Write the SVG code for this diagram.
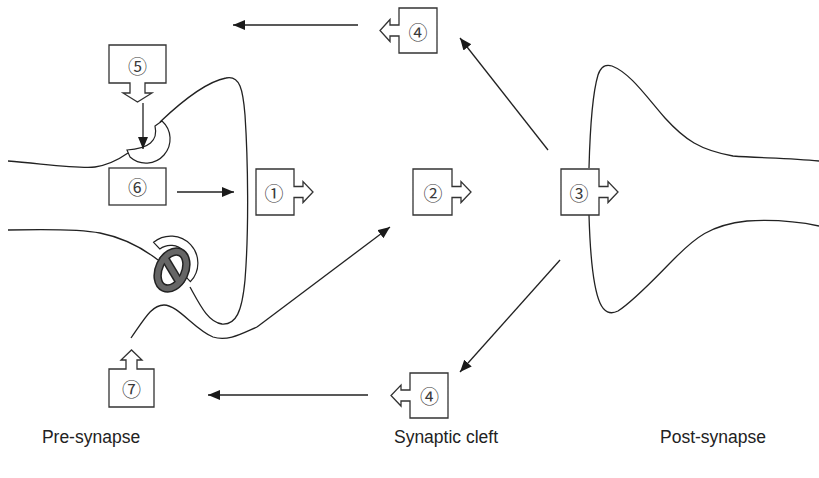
<svg xmlns="http://www.w3.org/2000/svg" width="819" height="478" viewBox="0 0 819 478">
  <defs>
    <marker id="head" markerUnits="userSpaceOnUse" markerWidth="13" markerHeight="11" refX="12" refY="5" orient="auto">
      <path d="M0,0 L12,5 L0,10 Z" fill="#1a1a1a"/>
    </marker>
    <style>
      .membrane { fill: none; stroke: #222; stroke-width: 1.3; }
      .box { fill: #fff; stroke: #333; stroke-width: 1.3; stroke-linejoin: miter; }
      .receptor { fill: #fff; stroke: #222; stroke-width: 1.2; }
      .num { font-family: "Noto Sans CJK JP", "DejaVu Sans", sans-serif; font-size: 19px; fill: #3a3a3a; text-anchor: middle; dominant-baseline: central; }
      .label { font-family: "Liberation Sans", Arial, sans-serif; font-size: 17.5px; fill: #222; text-anchor: middle; }
      .conn { fill: none; stroke: #222; stroke-width: 1.3; marker-end: url(#head); }
      .block-edge { fill: none; stroke: #222; stroke-width: 8.5; }
      .block-fill { fill: none; stroke: #666; stroke-width: 5.5; }
    </style>
  </defs>

  <!-- Post-synaptic terminal outline -->
  <g id="post-synapse">
    <path class="membrane" d="M589,168 C590,130 592,95 598,75 C601,66 606,64 612,66 C630,73 645,95 665,118 C685,140 700,150 733,156 C760,158 790,158 819,161"/>
    <path class="membrane" d="M589,215 C590,250 592,285 600,303 C604,312 610,315 618,311 C635,300 655,278 675,258 C695,238 710,225 747,221 C780,219 800,222 819,226"/>
  </g>

  <!-- Pre-synaptic terminal outline with its receptors -->
  <g id="pre-synapse">
    <path id="receptor-top" class="receptor" d="M130,157 A24,24 0 0 0 162,121 L155,126 Q160,148 127,150 Z"/>
    <path id="receptor-blocked" class="receptor" d="M153.6,242.3 A27,27 0 0 1 190.4,281.7 L184.2,275.1 A18,18 0 0 0 159.8,248.9 Z"/>
    <path class="membrane" d="M8,161 C45,164 80,169 95,167 C108,165 118,160 128,153"/>
    <path class="membrane" d="M160,122 C180,103 205,82 226,78 C240,75 243,90 245,115 C248,160 249,230 245,280 C242,312 236,325 222,324 C208,322 200,305 190,287"/>
    <path class="membrane" d="M8,230 C50,229 85,230 100,233 C120,237 140,246 158,260"/>
    <path class="membrane" d="M131,338 C145,318 152,305 164,305 C178,305 195,330 213,337 C228,342 243,333 257,327"/>
    <!-- blocking symbol over the lower receptor -->
    <g id="block">
      <ellipse class="block-edge" cx="172" cy="270" rx="13" ry="19.5" transform="rotate(25 172 270)"/>
      <line class="block-edge" x1="163" y1="255" x2="181" y2="285" stroke-linecap="butt"/>
      <ellipse class="block-fill" cx="172" cy="270" rx="13" ry="19.5" transform="rotate(25 172 270)"/>
      <line class="block-fill" x1="163.5" y1="256" x2="180.5" y2="284"/>
    </g>
  </g>

  <!-- Connectors -->
  <g id="connectors">
    <line class="conn" x1="358" y1="25" x2="233" y2="25"/>
    <line class="conn" x1="368" y1="395" x2="208" y2="395"/>
    <line class="conn" x1="548" y1="150" x2="460" y2="38"/>
    <line class="conn" x1="560" y1="260" x2="460" y2="372"/>
    <line class="conn" x1="143" y1="103" x2="143" y2="149"/>
    <line class="conn" x1="177" y1="192" x2="234" y2="192"/>
    <line class="conn" x1="257" y1="327" x2="390" y2="227"/>
  </g>

  <!-- Numbered nodes -->
  <g id="node-5">
    <path class="box" d="M109,45 H166 V83 H145 V93 H152 L137.5,102 L123,93 H130 V83 H109 Z"/>
    <text class="num" x="137.5" y="65">⑤</text>
  </g>
  <g id="node-6">
    <rect class="box" x="109" y="168" width="57" height="37"/>
    <text class="num" x="137.5" y="186.5">⑥</text>
  </g>
  <g id="node-1">
    <path class="box" d="M256,169 H294 V186.5 H303 V181.5 L313,192 L303,202.5 V197.5 H294 V215 H256 Z"/>
    <text class="num" x="274" y="192">①</text>
  </g>
  <g id="node-2">
    <path class="box" d="M413,169 H452 V186.5 H461 V181.5 L471,192 L461,202.5 V197.5 H452 V215 H413 Z"/>
    <text class="num" x="433" y="192">②</text>
  </g>
  <g id="node-3">
    <path class="box" d="M561,169 H599 V186.5 H608 V181.5 L618,192 L608,202.5 V197.5 H599 V215 H561 Z"/>
    <text class="num" x="579" y="192">③</text>
  </g>
  <g id="node-4-top">
    <path class="box" d="M437,8 V53 H399 V36 H390 V41.5 L380,30.5 L390,19.5 V25 H399 V8 Z"/>
    <text class="num" x="418" y="31">④</text>
  </g>
  <g id="node-4-bottom">
    <path class="box" d="M448,373 V418 H410 V401 H401 V406 L391,395.5 L401,385 V390 H410 V373 Z"/>
    <text class="num" x="429.5" y="395.5">④</text>
  </g>
  <g id="node-7">
    <path class="box" d="M109,407 V369 H126 V360 H121 L131.5,350 L142,360 H137 V369 H154 V407 Z"/>
    <text class="num" x="131.5" y="388">⑦</text>
  </g>

  <!-- Region labels -->
  <g id="labels">
    <text class="label" x="91" y="443">Pre-synapse</text>
    <text class="label" x="446" y="443">Synaptic cleft</text>
    <text class="label" x="713" y="443">Post-synapse</text>
  </g>
</svg>
